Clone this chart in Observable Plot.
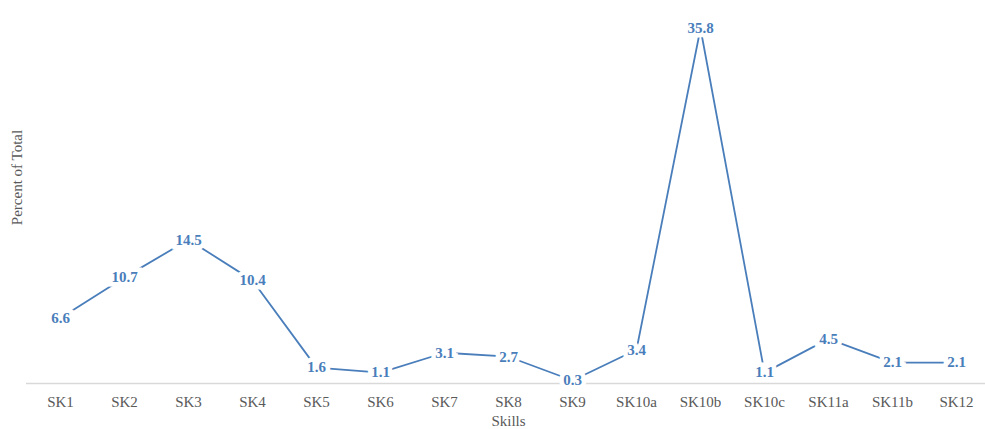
<!DOCTYPE html>
<html><head><meta charset="utf-8">
<script src="https://cdn.jsdelivr.net/npm/d3@7"></script>
<script src="https://cdn.jsdelivr.net/npm/@observablehq/plot@0.6"></script>
<style>body{margin:0;background:#fff}</style>
</head><body><div id="chart"></div>
<script>
const skills = ["SK1","SK2","SK3","SK4","SK5","SK6","SK7","SK8","SK9","SK10a","SK10b","SK10c","SK11a","SK11b","SK12"];
const percents = [6.6,10.7,14.5,10.4,1.6,1.1,3.1,2.7,0.3,3.4,35.8,1.1,4.5,2.1,2.1];
const data = skills.map((s,i)=>({skill:s, value:percents[i]}));
const blue = "#4a7ebb";
const font = "Liberation Serif, Times New Roman, serif";
const chart = Plot.plot({
  width: 985, height: 429,
  marginLeft: 26, marginRight: 0, marginTop: 0, marginBottom: 46,
  style: {fontFamily: font, background: "#fff"},
  x: {type: "point", domain: skills, range: [58, 957], padding: 0, label: null},
  y: {domain: [0, 35.8], range: [383, 28], label: null, axis: null},
  marks: [
    Plot.ruleY([0], {stroke: "#d9d9d9", strokeWidth: 1.5}),
    Plot.axisX({tickSize: 0, tickPadding: 13, fontSize: 15, fill: "#595959", fontFamily: font, label: null}),
    Plot.line(data, {x: "skill", y: "value", stroke: blue, strokeWidth: 1.8}),
    Plot.text(data, {x: "skill", y: "value", text: d => d.value.toFixed(1), fill: blue, fontWeight: "bold", fontSize: 15, stroke: "white", strokeWidth: 9, strokeLinejoin: "miter", paintOrder: "stroke"}),
    Plot.text(["Skills"], {frameAnchor: "bottom", x: () => "SK8", text: d => d, fontSize: 15, fill: "#595959", dy: 42}),
    Plot.text(["Percent of Total"], {frameAnchor: "left", textAnchor: "middle", text: d => d, rotate: -90, fontSize: 15, fill: "#595959", dx: -9, dy: -14.5})
  ]
});
document.getElementById("chart").append(chart);
</script></body></html>
